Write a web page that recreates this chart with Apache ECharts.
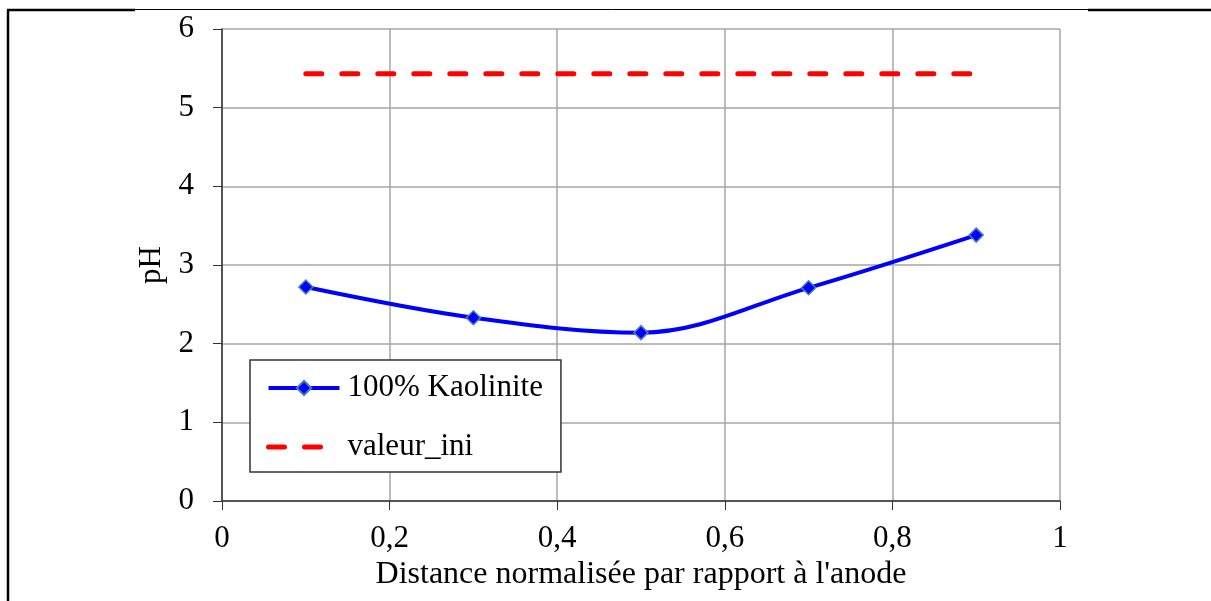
<!DOCTYPE html>
<html>
<head>
<meta charset="utf-8">
<script src="https://cdn.jsdelivr.net/npm/echarts@6/dist/echarts.min.js"></script>
<style>
html,body{margin:0;padding:0;background:#fff;}
#c{width:1211px;height:601px;}
</style>
</head>
<body>
<div id="c"></div>
<script>
const distances = [0.1, 0.3, 0.5, 0.7, 0.9];
const phKaolinite = [2.72, 2.33, 2.14, 2.71, 3.38];
const iniDistances = [0.1, 0.9];
const phInitial = [5.43, 5.43];
const seriesNames = ['100% Kaolinite', 'valeur_ini'];
const xTitle = "Distance normalisée par rapport à l'anode";
const yTitle = 'pH';

const font = 'Liberation Serif, Times New Roman, serif';
const fs = 31;
const chart = echarts.init(document.getElementById('c'), null, {renderer: 'canvas'});
chart.setOption({
  animation: false,
  backgroundColor: '#fff',
  textStyle: {fontFamily: font},
  grid: {left: 222, top: 29, right: 151, bottom: 100, containLabel: false},
  xAxis: {
    type: 'value', min: 0, max: 1, interval: 0.2,
    name: xTitle, nameLocation: 'middle', nameGap: 47,
    nameTextStyle: {fontFamily: font, fontSize: 32, color: '#000'},
    axisLine: {show: true, onZero: false, lineStyle: {color: '#333', width: 1.5}},
    axisTick: {show: true, length: 9, inside: false, lineStyle: {color: '#333'}},
    axisLabel: {fontFamily: font, fontSize: fs, color: '#000', margin: 22,
      formatter: v => String(+v.toFixed(1)).replace('.', ',')},
    splitLine: {show: true, lineStyle: {color: '#a6a6a6', width: 1.5}}
  },
  yAxis: {
    type: 'value', min: 0, max: 6, interval: 1,
    name: yTitle, nameLocation: 'middle', nameGap: 51, nameRotate: 90,
    nameTextStyle: {fontFamily: font, fontSize: fs, color: '#000'},
    axisLine: {show: true, lineStyle: {color: '#333', width: 1.5}},
    axisTick: {show: true, length: 9, lineStyle: {color: '#333'}},
    axisLabel: {fontFamily: font, fontSize: fs, color: '#000', margin: 28},
    splitLine: {show: true, lineStyle: {color: '#a6a6a6', width: 1.5}}
  },
  legend: {
    orient: 'vertical', left: 250, top: 360,
    backgroundColor: '#fff', borderColor: '#333', borderWidth: 1.5,
    padding: [12.5, 18, 9.5, 16], itemGap: 28, itemWidth: 71, itemHeight: 18,
    textStyle: {fontFamily: font, fontSize: fs, color: '#000', lineHeight: 31, padding: [0, 0, 0, 3]},
    data: [
      {name: seriesNames[0], lineStyle: {width: 4}},
      {name: seriesNames[1], lineStyle: {width: 5}}
    ]
  },
  series: [
    {
      name: seriesNames[0], type: 'line', smooth: 0.35,
      data: distances.map((d, i) => [d, phKaolinite[i]]),
      symbol: 'diamond', symbolSize: 14,
      itemStyle: {color: '#0000ff', borderColor: '#4a7ebb', borderWidth: 1.5},
      lineStyle: {color: '#0000ff', width: 4}
    },
    {
      name: seriesNames[1], type: 'line',
      data: iniDistances.map((d, i) => [d, phInitial[i]]),
      symbol: 'none',
      itemStyle: {color: 'rgba(0,0,0,0)', borderWidth: 0},
      lineStyle: {color: '#ff0000', width: 5, type: [16, 20], cap: 'round'}
    }
  ],
  graphic: [
    {type: 'line', shape: {x1: 8, y1: 10, x2: 8, y2: 601}, style: {stroke: '#000', lineWidth: 2.5}},
    {type: 'line', shape: {x1: 7, y1: 10, x2: 135, y2: 10}, style: {stroke: '#000', lineWidth: 2.5}},
    {type: 'line', shape: {x1: 135, y1: 9.5, x2: 1088, y2: 9.5}, style: {stroke: '#000', lineWidth: 1}},
    {type: 'line', shape: {x1: 1088, y1: 10, x2: 1211, y2: 10}, style: {stroke: '#000', lineWidth: 2.5}}
  ]
});
</script>
</body>
</html>
